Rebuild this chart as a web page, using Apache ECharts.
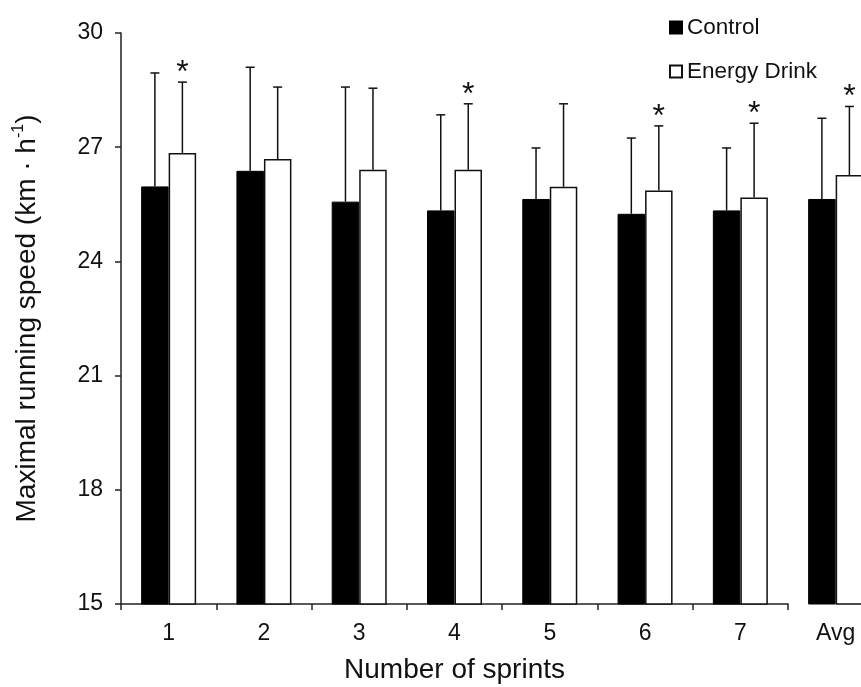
<!DOCTYPE html>
<html>
<head>
<meta charset="utf-8">
<script src="https://cdn.jsdelivr.net/npm/echarts@6/dist/echarts.min.js"></script>
<style>html,body{margin:0;padding:0;background:#fff}#c{width:861px;height:687px}</style>
</head>
<body>
<div id="c"></div>
<script>
var categories = ['1', '2', '3', '4', '5', '6', '7', 'Avg'];
var controlMean = [25.97, 26.38, 25.57, 25.34, 25.64, 25.25, 25.34, 25.64];
var controlSD = [2.98, 2.72, 3.01, 2.51, 1.34, 1.99, 1.64, 2.12];
var drinkMean = [26.85, 26.69, 26.41, 26.41, 25.96, 25.86, 25.68, 26.27];
var drinkSD = [1.86, 1.89, 2.14, 1.73, 2.18, 1.70, 1.95, 1.80];
var significant = [1, 0, 0, 1, 0, 1, 1, 1];
var yTicks = { min: 15, max: 30, interval: 3 };

var FONT = '"Liberation Sans", Arial, Helvetica, sans-serif';
var BAR_W = 27.5;

function errData(mean, sd, from, to) {
  var out = [];
  for (var i = from; i < to; i++) out.push([i - from, mean[i], mean[i] + sd[i], significant[i]]);
  return out;
}
function makeRender(side, withStar) {
  return function (params, api) {
    var c = api.coord([api.value(0), api.value(1)]);
    var t = api.coord([api.value(0), api.value(2)]);
    var x = c[0] + side * BAR_W / 2;
    var st = { stroke: '#111', lineWidth: 1.5 };
    var kids = [
      { type: 'line', shape: { x1: x, y1: c[1], x2: x, y2: t[1] }, style: st },
      { type: 'line', shape: { x1: x - 4.5, y1: t[1], x2: x + 4.5, y2: t[1] }, style: st }
    ];
    if (withStar && api.value(3) === 1) {
      kids.push({ type: 'text', style: { text: '*', x: x, y: t[1] - 9, textAlign: 'center', textVerticalAlign: 'middle', fontSize: 32, fontFamily: FONT, fill: '#111' } });
    }
    return { type: 'group', children: kids };
  };
}

var chart = echarts.init(document.getElementById('c'));
var axisLabelStyle = { color: '#111', fontSize: 23, fontFamily: FONT };
var blackStyle = { color: '#000', borderColor: '#000', borderWidth: 1 };
var whiteStyle = { color: '#fff', borderColor: '#111', borderWidth: 1.5 };

chart.setOption({
  animation: false,
  backgroundColor: '#fff',
  legend: {
    orient: 'vertical', left: 664, top: 11, itemWidth: 12, itemHeight: 12, itemGap: 21,
    icon: 'rect', data: ['Control', 'Energy Drink'],
    textStyle: { fontSize: 22.5, fontFamily: FONT, color: '#111' }
  },
  grid: [
    { left: 121, top: 33, width: 667, height: 571, outerBoundsMode: 'none', containLabel: false },
    { left: 788, top: 33, width: 95.3, height: 571, outerBoundsMode: 'none', containLabel: false }
  ],
  xAxis: [
    {
      type: 'category', gridIndex: 0, data: categories.slice(0, 7),
      axisLine: { lineStyle: { color: '#222', width: 1.5 } },
      axisTick: { show: true, length: 6, lineStyle: { color: '#222', width: 1.5 } },
      axisLabel: Object.assign({ margin: 18 }, axisLabelStyle),
      name: 'Number of sprints', nameLocation: 'middle', nameGap: 52,
      nameTextStyle: { fontSize: 28, fontFamily: FONT, color: '#111' }
    },
    {
      type: 'category', gridIndex: 1, data: categories.slice(7),
      axisLine: { show: false }, axisTick: { show: false },
      axisLabel: Object.assign({ margin: 18 }, axisLabelStyle)
    }
  ],
  yAxis: [
    {
      type: 'value', gridIndex: 0, min: yTicks.min, max: yTicks.max, interval: yTicks.interval,
      axisLine: { show: true, lineStyle: { color: '#222', width: 1.5 } },
      axisTick: { show: true, length: 6, lineStyle: { color: '#222', width: 1.5 } },
      splitLine: { show: false },
      axisLabel: Object.assign({ margin: 18 }, axisLabelStyle),
      name: '{a|Maximal running speed (km · h}{s|-1}{a|)}',
      nameLocation: 'middle', nameGap: 78,
      nameTextStyle: {
        rich: {
          a: { fontSize: 28, fontFamily: FONT, color: '#111', lineHeight: 32 },
          s: { fontSize: 16, fontFamily: FONT, color: '#111', verticalAlign: 'top', lineHeight: 32, padding: [0, 0, 10, 0] }
        }
      }
    },
    { type: 'value', gridIndex: 1, min: yTicks.min, max: yTicks.max, interval: yTicks.interval, show: false }
  ],
  series: [
    { name: 'Control', type: 'bar', xAxisIndex: 0, yAxisIndex: 0, barWidth: BAR_W, barGap: '0%', data: controlMean.slice(0, 7), itemStyle: blackStyle },
    { name: 'Energy Drink', type: 'bar', xAxisIndex: 0, yAxisIndex: 0, barWidth: BAR_W, barGap: '0%', data: drinkMean.slice(0, 7), itemStyle: whiteStyle },
    { name: 'Control', type: 'bar', xAxisIndex: 1, yAxisIndex: 1, barWidth: BAR_W, barGap: '0%', data: controlMean.slice(7), itemStyle: blackStyle },
    { name: 'Energy Drink', type: 'bar', xAxisIndex: 1, yAxisIndex: 1, barWidth: BAR_W, barGap: '0%', data: drinkMean.slice(7), itemStyle: whiteStyle },
    { type: 'custom', xAxisIndex: 0, yAxisIndex: 0, renderItem: makeRender(-1, false), data: errData(controlMean, controlSD, 0, 7), z: 5 },
    { type: 'custom', xAxisIndex: 0, yAxisIndex: 0, renderItem: makeRender(1, true), data: errData(drinkMean, drinkSD, 0, 7), z: 5 },
    { type: 'custom', xAxisIndex: 1, yAxisIndex: 1, renderItem: makeRender(-1, false), data: errData(controlMean, controlSD, 7, 8), z: 5 },
    { type: 'custom', xAxisIndex: 1, yAxisIndex: 1, renderItem: makeRender(1, true), data: errData(drinkMean, drinkSD, 7, 8), z: 5 }
  ]
});
</script>
</body>
</html>
